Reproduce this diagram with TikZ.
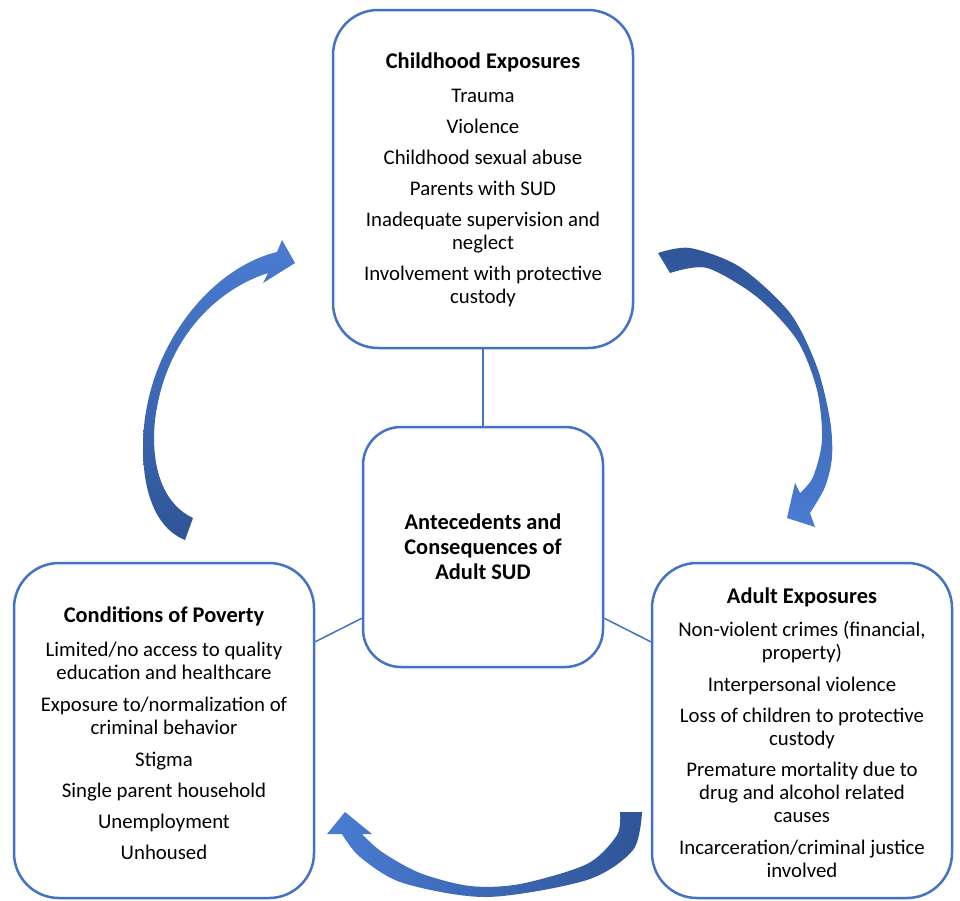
\documentclass[tikz,border=0pt]{standalone}
\usepackage{fontspec}
\setmainfont{Carlito}
\usetikzlibrary{calc}
\definecolor{bord}{HTML}{4472C4}
\definecolor{darkb}{HTML}{2F5597}
\definecolor{lightb}{HTML}{4A7CD2}
\newcommand{\ttl}[1]{{\bfseries\fontsize{22.4}{23}\selectfont #1}}
\begin{document}
\begin{tikzpicture}[x=1pt,y=-1pt,
  roundbox/.style={draw=bord, line width=2.5pt, fill=white, rounded corners=45pt, inner sep=0pt},
  txt/.style={align=center, inner sep=0pt, anchor=north, font=\fontsize{20.8}{23}\selectfont},
  link/.style={draw=bord, line width=1.5pt}]
\useasboundingbox (0,0) rectangle (960,900);
\fill[white] (0,0) rectangle (960,900);

% boxes
\node[roundbox, minimum width=300pt, minimum height=338pt] (T) at (483,179) {};
\node[roundbox, minimum width=240pt, minimum height=240pt, rounded corners=38pt] (C) at (483,547) {};
\node[roundbox, minimum width=300pt, minimum height=335pt] (L) at (164,730.5) {};
\node[roundbox, minimum width=300pt, minimum height=335pt] (R) at (802,730.5) {};

% connectors
\path[link] (T.south) -- (C.north);
\path[link] ($(C.south west)+(0,-50)$) -- ($(L.north east)+(0,80)$);
\path[link] ($(C.south east)+(0,-50)$) -- ($(R.north west)+(0,80)$);

% texts
\node[txt] (Ttxt) at (483,53) {\ttl{Childhood Exposures}\\[11pt]
Trauma\\[8pt]
Violence\\[8pt]
Childhood sexual abuse\\[8pt]
Parents with SUD\\[8pt]
Inadequate supervision and\\neglect\\[8pt]
Involvement with protective\\custody};

\node[txt, font=\bfseries\fontsize{22.4}{25}\selectfont] (Ctxt) at (483,514) {Antecedents and\\Consequences of\\Adult SUD};

\node[txt] (Ltxt) at (164,606.5) {\ttl{Conditions of Poverty}\\[11pt]
Limited/no access to quality\\education and healthcare\\[9pt]
Exposure to/normalization of\\criminal behavior\\[9pt]
Stigma\\[8pt]
Single parent household\\[8pt]
Unemployment\\[8pt]
Unhoused};

\node[txt] (Rtxt) at (802,587.5) {\ttl{Adult Exposures}\\[10pt]
Non-violent crimes (financial,\\property)\\[9pt]
Interpersonal violence\\[8pt]
Loss of children to protective\\custody\\[8pt]
Premature mortality due to\\drug and alcohol related\\causes\\[9pt]
Incarceration/criminal justice\\involved};

% curved block arrows
\shade[top color=lightb, bottom color=darkb]
 (185,540) .. controls (160,530) and (143,500) .. (143,447)
 .. controls (143,350) and (210,268) .. (277,252)
 -- (282,240) -- (295,263) -- (263,283) -- (268,273)
 .. controls (215,290) and (165,340) .. (155,420)
 .. controls (150,470) and (165,505) .. (193,518) -- cycle;

\shade[top color=darkb, bottom color=lightb]
 plot[smooth] coordinates {(658,253) (690,248) (740,267) (790,313) (817,367) (830,420) (832,457) (825,487) (810,513)}
 -- (815,527) -- (787,518) -- (795,483) -- (800,493)
 -- plot[smooth] coordinates {(800,493) (813,477) (822,440) (817,390) (797,340) (757,297) (707,268) (670,273)}
 -- cycle;

\shade[left color=lightb, right color=darkb]
 plot[smooth] coordinates {(642,812) (633,850) (587,880) (487,897) (403,883) (360,857) (342,834)}
 -- (327,834) -- (345,812) -- (372,834) -- (362,834)
 -- plot[smooth] coordinates {(362,834) (382,852) (420,873) (470,886) (520,884) (587,864) (617,835) (620,812)}
 -- cycle;
\end{tikzpicture}
\end{document}
